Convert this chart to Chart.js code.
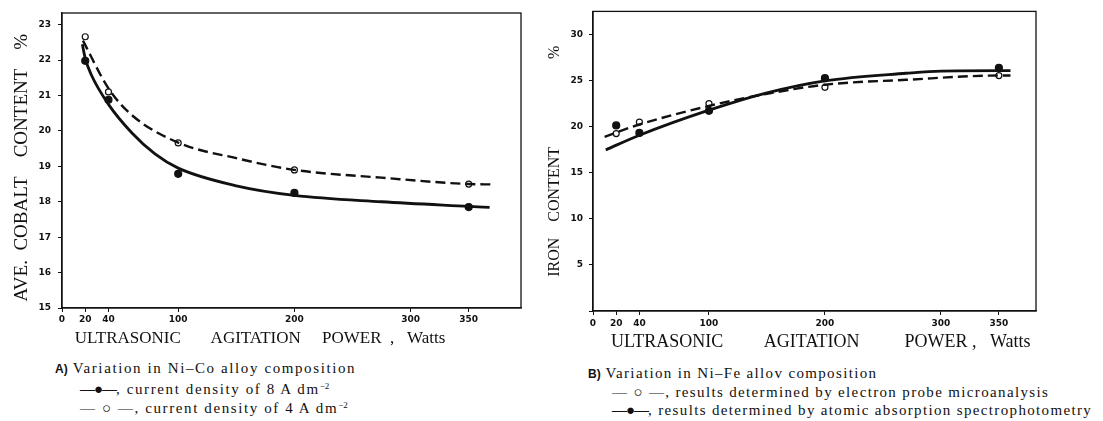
<!DOCTYPE html>
<html>
<head>
<meta charset="utf-8">
<script src="https://cdn.jsdelivr.net/npm/chart.js@4.4.1/dist/chart.umd.min.js"></script>
<style>
  body { margin: 0; background: #fff; width: 1103px; height: 421px; position: relative; overflow: hidden; }
  .panel { position: absolute; top: 0; height: 355px; }
  .cap { position: absolute; font-family: "Liberation Serif", serif; font-size: 15px; line-height: 16px;
         letter-spacing: 1.6px; color: #111; white-space: nowrap; }
  .capB { letter-spacing: 1.35px; }
  .lab { font-family: "Liberation Sans", sans-serif; font-weight: bold; font-size: 12px; letter-spacing: 0; }
  .sup { position: relative; top: -5px; font-size: 9px; letter-spacing: 0; }
  .sym { font-weight: bold; letter-spacing: -1px; }
</style>
</head>
<body>
<div class="panel" style="left:0;width:545px"><canvas id="chartA"></canvas></div>
<div class="panel" style="left:545px;width:558px"><canvas id="chartB"></canvas></div>

<div class="cap" style="left:55px;top:360px"><span class="lab">A)</span> Variation in Ni–Co alloy composition</div>
<div class="cap" style="left:80px;top:381px"><span class="sym">—●—</span>, current density of 8 A dm<span class="sup">−2</span></div>
<div class="cap" style="left:80px;top:400px">— ○ —, current density of 4 A dm<span class="sup">−2</span></div>

<div class="cap capB" style="left:588px;top:365px"><span class="lab">B)</span> Variation in Ni–Fe allov composition</div>
<div class="cap capB" style="left:612px;top:384px">— ○ —, results determined by electron probe microanalysis</div>
<div class="cap capB" style="left:612px;top:402px"><span class="sym">—●—</span>, results determined by atomic absorption spectrophotometry</div>

<script>
const powerTicks = [0, 20, 40, 100, 200, 300, 350];

// A) Ni-Co, cobalt content %
const coPower = [20, 40, 100, 200, 350];
const co8A = [21.98, 20.88, 18.79, 18.25, 17.85];
const co4A = [22.66, 21.10, 19.66, 18.90, 18.50];
const co8ACurvePower = [17.5, 20, 25, 40, 60, 80, 100, 150, 200, 275, 350, 368];
const co8ACurve = [22.45, 22.05, 21.6, 20.75, 19.95, 19.35, 18.95, 18.45, 18.18, 18.0, 17.87, 17.84];
const co4ACurvePower = [18, 40, 60, 100, 150, 200, 275, 350, 370];
const co4ACurve = [22.55, 21.2, 20.45, 19.67, 19.23, 18.9, 18.68, 18.5, 18.49];

// B) Ni-Fe, iron content %
const fePower = [20, 40, 100, 200, 350];
const feProbe = [19.25, 20.49, 22.5, 24.26, 25.54];
const feAtomic = [20.13, 19.32, 21.72, 25.26, 26.38];
const feProbeCurvePower = [10, 40, 100, 150, 200, 270, 350, 360];
const feProbeCurve = [18.9, 20.23, 22.25, 23.56, 24.55, 25.08, 25.54, 25.54];
const feAtomicCurvePower = [11, 40, 100, 150, 200, 270, 300, 350, 360];
const feAtomicCurve = [17.48, 19.07, 21.79, 23.67, 24.97, 25.79, 26.03, 26.07, 26.07];

const ink = '#111';
const serif = 'Liberation Serif';
const tickFont = { family: 'DejaVu Sans', size: 9, weight: 'bold' };

const xy = (xs, ys) => xs.map((x, i) => ({ x: x, y: ys[i] }));

const boxPlugin = {
  id: 'box',
  afterDatasetsDraw(chart) {
    const { ctx, chartArea: a } = chart;
    ctx.save();
    ctx.strokeStyle = ink;
    ctx.lineWidth = 1.3;
    ctx.strokeRect(a.left, a.top, a.right - a.left, a.bottom - a.top);
    ctx.restore();
  }
};

function curve(data, dashed) {
  return {
    data: data,
    borderColor: ink,
    borderWidth: dashed ? 2.4 : 2.8,
    borderDash: dashed ? [10, 5] : [],
    pointRadius: 0,
    cubicInterpolationMode: 'monotone',
    fill: false
  };
}

function marks(data, filled) {
  return {
    data: data,
    showLine: false,
    pointRadius: filled ? 3.5 : 3,
    pointBorderWidth: 1.2,
    pointBorderColor: ink,
    pointBackgroundColor: filled ? ink : '#fff'
  };
}

function makeChart(id, o) {
  new Chart(document.getElementById(id), {
    type: 'line',
    data: { datasets: o.datasets },
    plugins: [boxPlugin],
    options: {
      responsive: true,
      maintainAspectRatio: false,
      animation: false,
      layout: { padding: { top: o.top, right: o.right, left: 0, bottom: 0 } },
      plugins: { legend: { display: false }, tooltip: { enabled: false } },
      scales: {
        x: {
          type: 'linear',
          min: 0,
          max: o.xMax,
          afterBuildTicks: s => { s.ticks = powerTicks.map(v => ({ value: v })); },
          afterFit: s => { s.height = o.xHeight; },
          grid: { drawOnChartArea: false, tickLength: 4, color: ink },
          border: { color: ink, width: 1.3 },
          ticks: { font: tickFont, color: ink, padding: o.xPad, maxRotation: 0, autoSkip: false },
          title: {
            display: true,
            text: o.xTitle,
            align: 'start',
            color: ink,
            font: { family: serif, size: o.xTitleSize },
            padding: { top: 0, bottom: o.xTitlePad }
          }
        },
        y: {
          min: o.yMin,
          max: o.yMax,
          afterFit: s => { s.width = o.yWidth; },
          grid: { drawOnChartArea: false, tickLength: 4, color: ink },
          border: { color: ink, width: 1.3 },
          ticks: {
            stepSize: o.yStep,
            includeBounds: false,
            font: tickFont,
            color: ink,
            padding: o.yPad,
            callback: v => (v === 0 ? '' : v)
          },
          title: {
            display: true,
            text: o.yTitle,
            color: ink,
            font: { family: serif, size: o.yTitleSize },
            padding: { top: o.yTitlePad, bottom: 0 }
          }
        }
      }
    }
  });
}

function drawAll() {
  makeChart('chartA', {
    top: 13, right: 24, yWidth: 62, xHeight: 47,
    xMax: 395, yMin: 15, yMax: 23.33, yStep: 1,
    xPad: 2, yPad: 7,
    xTitle: '   ULTRASONIC       AGITATION     POWER  ,   Watts', xTitleSize: 17, xTitlePad: 6,
    yTitle: 'AVE.  COBALT    CONTENT    %   ', yTitleSize: 19, yTitlePad: 11,
    datasets: [
      curve(xy(co8ACurvePower, co8ACurve), false),
      curve(xy(co4ACurvePower, co4ACurve), true),
      marks(xy(coPower, co8A), true),
      marks(xy(coPower, co4A), false)
    ]
  });

  makeChart('chartB', {
    top: 4, right: 67, yWidth: 48, xHeight: 44,
    xMax: 382, yMin: 0, yMax: 32.5, yStep: 5,
    xPad: 3, yPad: 6,
    xTitle: '    ULTRASONIC         AGITATION          POWER ,   Watts', xTitleSize: 18, xTitlePad: 2,
    yTitle: 'IRON    CONTENT                      %', yTitleSize: 16, yTitlePad: 0,
    datasets: [
      curve(xy(feAtomicCurvePower, feAtomicCurve), false),
      curve(xy(feProbeCurvePower, feProbeCurve), true),
      marks(xy(fePower, feAtomic), true),
      marks(xy(fePower, feProbe), false)
    ]
  });
}

Promise.all([
  document.fonts.load('19px "Liberation Serif"'),
  document.fonts.load('bold 9px "DejaVu Sans"')
]).then(drawAll, drawAll);
</script>
</body>
</html>
